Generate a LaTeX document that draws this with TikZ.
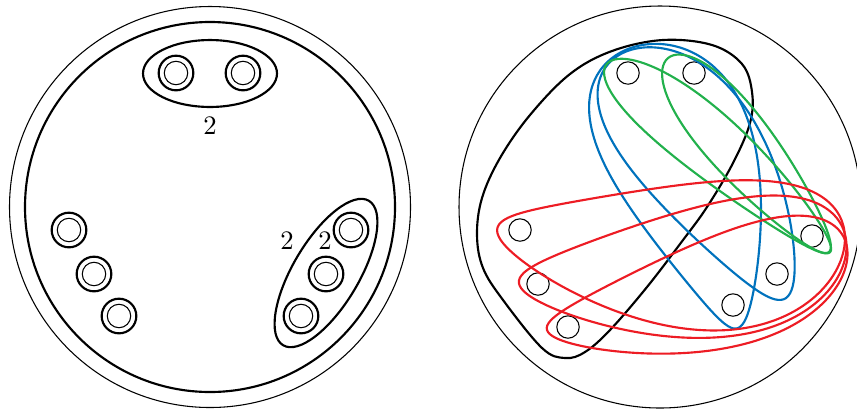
\documentclass[tikz,border=0pt]{standalone}
\usepackage{tikz}
\usetikzlibrary{shapes.geometric, positioning}
\definecolor{hblue}{RGB}{0,114,189}
\definecolor{hgreen}{RGB}{34,177,76}
\definecolor{hred}{RGB}{237,28,36}

\begin{document}
\begin{tikzpicture}[x=0.375pt, y=-0.375pt]
    % Define styles for the nodes
    \tikzstyle{port} = [
        circle, draw, thick, minimum size=13pt, inner sep=0pt,
        path picture={\draw[thin] (path picture bounding box.center) circle (4.4pt);}
    ]
    \tikzstyle{dot} = [
        circle, draw, thin, minimum size=8.4pt, inner sep=0pt
    ]
    \tikzstyle{grp} = [ellipse, draw, thick, inner sep=0pt]
    \tikzstyle{lbl} = [inner sep=0pt]
    \tikzstyle{hyper} = [thick, line join=round]

    \useasboundingbox (0,0) rectangle (857,408);

    % Left disc
    \draw[thin] (210,207) circle [radius=200.5];
    \draw[thick] (210,207) circle [radius=185];

    % Top pair
    \node[port] (a1) at (176,73) {};
    \node[port] (a2) at (243,73) {};
    \node[grp, minimum width=50.25pt, minimum height=25.1pt] (top_grp) at (210,73.5) {};
    \node[lbl, below=3pt of top_grp] (top_lbl) {2};

    % Left three
    \node[port] (b1) at (69,230) {};
    \node[port] (b2) at (94,274) {};
    \node[port] (b3) at (119,316) {};

    % Right cluster
    \node[port] (c1) at (351,230) {};
    \node[port] (c2) at (326,274) {};
    \node[port] (c3) at (301,316) {};
    \node[grp, minimum width=63pt, minimum height=24.75pt, rotate=59.3] (clu_grp) at (326,273) {};
    \node[lbl] (clu_lbl_a) at (287,241) {2};
    \node[lbl] (clu_lbl_b) at (325,241) {2};

    % Right disc
    \draw[thin] (660,207) circle [radius=201];

    % Vertices
    \node[dot] (q1) at (628,73) {};
    \node[dot] (q2) at (694,73) {};
    \node[dot] (q3) at (520,230) {};
    \node[dot] (q4) at (538,284) {};
    \node[dot] (q5) at (568,327) {};
    \node[dot] (q6) at (812,236) {};
    \node[dot] (q7) at (777,274) {};
    \node[dot] (q8) at (733,305) {};

    % Black edge
    \draw[hyper] plot[smooth cycle, tension=0.6] coordinates {
        (663,40) (712,45) (742,64) (752,92) (750,123) (733,163) (707,207)
        (683,240) (647,287) (610,330) (585,352) (565,358) (542,348)
        (503,300) (483,268) (477,235) (482,198) (500,158) (530,115)
        (570,74) (612,51)};

    % Blue edges (egg shapes: big end at q1)
    \draw[hyper, hblue, shift={(683,188.5)}, rotate=111.5]
        plot[domain=0:356, samples=90, smooth cycle]
        ({150*cos(\x)}, {68*sin(\x)*(1+0.5*cos(\x)) + 12*sin(\x)*sin(\x)});
    \draw[hyper, hblue, shift={(701,177.5)}, rotate=125.2]
        plot[domain=0:356, samples=90, smooth cycle]
        ({147.5*cos(\x)}, {61*sin(\x)*(1+0.35*cos(\x)) + 13*sin(\x)*sin(\x)});

    % Green edges
    \draw[hyper, hgreen, shift={(718.5,158)}, rotate=139.9]
        plot[domain=0:356, samples=90, smooth cycle]
        ({146*cos(\x)}, {31*sin(\x)*(1+0.3*cos(\x)) + 5*sin(\x)*sin(\x)});
    \draw[hyper, hgreen, shift={(748.5,155)}, rotate=129.7]
        plot[domain=0:356, samples=90, smooth cycle]
        ({126*cos(\x)}, {32*sin(\x)*(1+0.3*cos(\x))});

    % Red edges
    \draw[hyper, hred, shift={(671,235)}, rotate=-1.65]
        plot[domain=0:356, samples=90, smooth cycle]
        ({174*cos(\x)}, {70*sin(\x)*(1+0.4*cos(\x)) + 21*sin(\x)*sin(\x)});
    \draw[hyper, hred, shift={(682.5,261.5)}, rotate=7.5]
        plot[domain=0:356, samples=90, smooth cycle]
        ({165*cos(\x)}, {63*sin(\x)*(1+0.4*cos(\x)) + 14*sin(\x)*sin(\x)});
    \draw[hyper, hred, shift={(696.5,286.5)}, rotate=16.2]
        plot[domain=0:356, samples=90, smooth cycle]
        ({155.7*cos(\x)}, {53*sin(\x)*(1+0.4*cos(\x)) + 13*sin(\x)*sin(\x)});
\end{tikzpicture}
\end{document}
